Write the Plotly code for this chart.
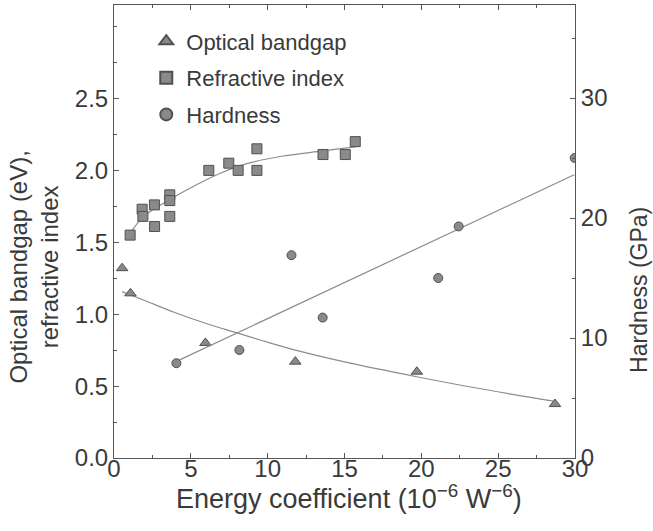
import plotly.graph_objects as go

# ---- data ----
bandgap_x = [0.53, 1.07, 5.95, 11.8, 19.71, 28.7]
bandgap_y = [1.32, 1.145, 0.80, 0.67, 0.60, 0.375]

refr_x = [1.05, 1.83, 1.88, 2.63, 2.64, 3.63, 3.63, 3.63, 6.17, 7.47, 8.08, 9.3, 9.3, 13.6, 15.05, 15.7]
refr_y = [1.55, 1.73, 1.68, 1.76, 1.61, 1.83, 1.79, 1.68, 2.00, 2.05, 2.00, 2.15, 2.00, 2.11, 2.11, 2.20]

hard_x = [4.06, 8.16, 11.55, 13.58, 21.1, 22.43, 29.98]
hard_y = [7.9, 9.0, 16.9, 11.7, 15.0, 19.3, 25.0]

# trend lines as drawn in the reference
bg_fit_x = [0.53, 2.0, 4.0, 6.0, 8.0, 10.0, 12.0, 15.0, 19.7, 23.4, 28.6]
bg_fit_y = [1.157, 1.095, 1.01, 0.935, 0.87, 0.805, 0.745, 0.668, 0.565, 0.49, 0.395]

rf_fit_x = [1.07, 1.94, 3.67, 5.19, 6.92, 8.76, 11.0, 13.6, 15.8]
rf_fit_y = [1.565, 1.68, 1.80, 1.89, 1.98, 2.05, 2.10, 2.135, 2.165]

hd_fit_x = [4.06, 29.95]
hd_fit_y = [8.05, 23.6]

x_ticks = [0, 5, 10, 15, 20, 25, 30]
y_ticks = [0.0, 0.5, 1.0, 1.5, 2.0, 2.5]
y2_ticks = [0, 10, 20, 30]

FONT = "Liberation Sans, Arial, sans-serif"
TXT = "#3a3a3a"
LINE = "#8c8c8c"
MFILL = "#8a8a8a"
MEDGE = "#505050"

fig = go.Figure()

fig.add_trace(go.Scatter(x=bg_fit_x, y=bg_fit_y, mode="lines", line=dict(color=LINE, width=1.2, shape="spline"),
                         showlegend=False, hoverinfo="skip"))
fig.add_trace(go.Scatter(x=rf_fit_x, y=rf_fit_y, mode="lines", line=dict(color=LINE, width=1.2, shape="spline"),
                         showlegend=False, hoverinfo="skip"))
fig.add_trace(go.Scatter(x=hd_fit_x, y=hd_fit_y, mode="lines", line=dict(color=LINE, width=1.2),
                         xaxis="x2", yaxis="y2", showlegend=False, hoverinfo="skip"))

fig.add_trace(go.Scatter(x=bandgap_x, y=bandgap_y, mode="markers", name="Optical bandgap", legendgroup="a",
                         marker=dict(symbol="triangle-up", size=10, color=MFILL, line=dict(color=MEDGE, width=1))))
fig.add_trace(go.Scatter(x=refr_x, y=refr_y, mode="markers", name="Refractive index", legendgroup="b",
                         marker=dict(symbol="square", size=10, color=MFILL, line=dict(color=MEDGE, width=1))))
fig.add_trace(go.Scatter(x=hard_x, y=hard_y, mode="markers", name="Hardness", legendgroup="c",
                         xaxis="x2", yaxis="y2",
                         marker=dict(symbol="circle", size=9, color=MFILL, line=dict(color=MEDGE, width=1))))

axis_common = dict(showgrid=False, zeroline=False, linecolor="#555", linewidth=1,
                   ticks="inside", ticklen=5, tickcolor="#555", tickwidth=1,
                   tickfont=dict(family=FONT, size=24, color=TXT))

fig.update_layout(
    width=653, height=531,
    margin=dict(l=113.5, r=78, t=5, b=73, pad=0),
    paper_bgcolor="white", plot_bgcolor="white",
    font=dict(family=FONT, size=22, color=TXT),
    # main x axis: frame line and ticks, labels come from the overlay axis below
    xaxis=dict(range=[0, 30], tickvals=x_ticks, showticklabels=False,
               mirror="allticks", showline=True,
               minor=dict(dtick=2.5, ticks="inside", ticklen=3, tickcolor="#555"),
               **axis_common),
    xaxis2=dict(range=[0, 30], tickvals=x_ticks, ticktext=[str(v) for v in x_ticks],
                overlaying="x", anchor="free", position=6 / 453, showline=False, ticks="",
                showgrid=False, zeroline=False,
                tickfont=dict(family=FONT, size=24, color=TXT)),
    yaxis=dict(range=[0, 3.15], tickvals=y_ticks, ticktext=[f"{v:.1f}" for v in y_ticks],
               mirror=True, showline=True,
               minor=dict(dtick=0.25, ticks="inside", ticklen=3, tickcolor="#555"),
               **axis_common),
    yaxis2=dict(range=[0, 37.75], tickvals=y2_ticks, ticktext=[str(v) for v in y2_ticks],
                overlaying="y", side="right", showline=True, anchor="x",
                minor=dict(dtick=5, ticks="inside", ticklen=3, tickcolor="#555"),
                **axis_common),
    legend=dict(x=0.07, y=0.966, xanchor="left", yanchor="top", bgcolor="rgba(0,0,0,0)",
                font=dict(family=FONT, size=22, color=TXT), tracegroupgap=5,
                itemsizing="constant"),
    showlegend=True,
)

fig.add_annotation(text="Energy coefficient (10<sup>−6</sup> W<sup>−6</sup>)", xref="paper", yref="paper",
                   x=(349 - 113.5) / 461.5, y=1 - (497 - 5) / 453, xanchor="center", yanchor="middle",
                   showarrow=False, font=dict(family=FONT, size=27, color=TXT))
fig.add_annotation(text="Optical bandgap (eV),<br>refractive index", xref="paper", yref="paper",
                   x=(33 - 113.5) / 461.5, y=1 - (267 - 5) / 453, xanchor="center", yanchor="middle",
                   textangle=-90, showarrow=False, font=dict(family=FONT, size=24, color=TXT))
fig.add_annotation(text="Hardness (GPa)", xref="paper", yref="paper",
                   x=(639 - 113.5) / 461.5, y=1 - (290 - 5) / 453, xanchor="center", yanchor="middle",
                   textangle=-90, showarrow=False, font=dict(family=FONT, size=23, color=TXT))

fig.write_html("out.html")
